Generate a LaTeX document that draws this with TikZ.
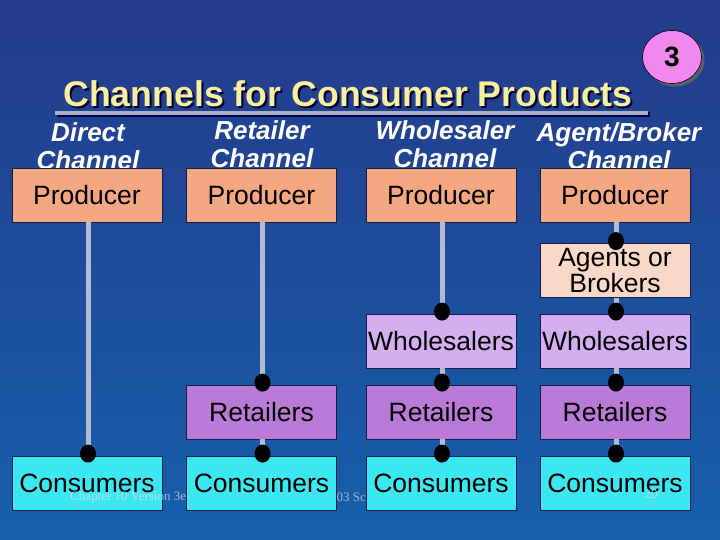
\documentclass[tikz,border=0pt]{standalone}
\usepackage{fontspec}
\setmainfont{Liberation Sans}
\newfontfamily\footfont{Liberation Serif}
\usetikzlibrary{shapes.geometric,shadows}
\definecolor{bgtop}{RGB}{36,58,138}
\definecolor{bgbot}{RGB}{22,96,172}
\definecolor{prodfill}{RGB}{244,168,130}
\definecolor{agentfill}{RGB}{250,216,200}
\definecolor{wholefill}{RGB}{212,174,240}
\definecolor{retfill}{RGB}{186,122,216}
\definecolor{consfill}{RGB}{60,232,240}
\definecolor{linegrey}{RGB}{176,188,208}
\definecolor{titleyellow}{RGB}{248,240,160}
\definecolor{ruleclr}{RGB}{168,176,200}
\definecolor{badgepink}{RGB}{240,136,240}
\definecolor{boxedge}{RGB}{20,30,70}
\begin{document}
\begin{tikzpicture}[x=1pt,y=-1pt,
  box/.style={draw=boxedge, line width=0.8pt, minimum width=150pt, minimum height=54pt,
    inner sep=0pt, align=center, text=black, font=\fontsize{26.5}{26}\selectfont},
  hdr/.style={text=white, align=center, inner sep=0pt, font=\fontsize{26}{28}\selectfont\bfseries\itshape},
  conn/.style={draw=linegrey, line width=5pt},
  dotmark/.style={fill=black},
  foot/.style={text=white!75!gray, opacity=0.7, inner sep=0pt, font=\footfont\fontsize{13}{13}\selectfont}]
\useasboundingbox (0,0) rectangle (720,540);
\shade[top color=bgtop, bottom color=bgbot] (0,0) rectangle (720,540);

% title
\node[text=black!80!blue, inner sep=0pt, font=\fontsize{35.7}{36}\selectfont\bfseries] (titleshadow) at (350,96) {Channels for Consumer Products};
\node[text=titleyellow, inner sep=0pt, font=\fontsize{35.7}{36}\selectfont\bfseries] (title) at (348,94) {Channels for Consumer Products};
\coordinate (ruleL) at (55,113);
\coordinate (ruleR) at (648,113);
\draw[line width=4.5pt, draw=black!70!blue] ([shift={(1.5,1.5)}]ruleL) -- ([shift={(1.5,1.5)}]ruleR);
\draw[line width=4.5pt, draw=ruleclr] (ruleL) -- (ruleR);

% badge
\node[ellipse, draw=black, line width=0.6pt, fill=badgepink, minimum width=59pt, minimum height=53pt, inner sep=0pt,
  drop shadow={shadow xshift=3pt, shadow yshift=-3pt, fill=black!60, opacity=0.8},
  font=\fontsize{28}{28}\selectfont\bfseries] (badge) at (672,57) {3};

% headers
\node[hdr] (h1) at (88,146) {Direct\\Channel};
\node[hdr] (h2) at (262,144) {Retailer\\Channel};
\node[hdr] (h3) at (445,144) {Wholesaler\\Channel};
\node[hdr] (h4) at (619,146) {Agent/Broker\\Channel};

% faint footer fragment
\node[foot, anchor=east] (footmid) at (366,497) {03 Sc};

% boxes
\node[box, fill=prodfill] (p1) at (87,195) {Producer};
\node[box, fill=prodfill] (p2) at (261.5,195) {Producer};
\node[box, fill=prodfill] (p3) at (441,195) {Producer};
\node[box, fill=prodfill] (p4) at (615,195) {Producer};

\node[box, fill=agentfill] (a4) at (615,270.5) {Agents or\\Brokers};

\node[box, fill=wholefill] (w3) at (441,341) {Wholesalers};
\node[box, fill=wholefill] (w4) at (615,341) {Wholesalers};

\node[box, fill=retfill] (r2) at (261.5,412) {Retailers};
\node[box, fill=retfill] (r3) at (441,412) {Retailers};
\node[box, fill=retfill] (r4) at (615,412) {Retailers};

\node[box, fill=consfill] (c1) at (87,483) {Consumers};
\node[box, fill=consfill] (c2) at (261.5,483) {Consumers};
\node[box, fill=consfill] (c3) at (441,483) {Consumers};
\node[box, fill=consfill] (c4) at (615,483) {Consumers};

% connectors
\foreach \a/\b in {p1/c1, p2/r2, r2/c2, p3/w3, w3/r3, r3/c3, p4/a4, a4/w4, w4/r4, r4/c4}{
  \draw[conn] ([xshift=1pt]\a.south) -- ([xshift=1pt]\b.north);
  \fill[dotmark] ([shift={(1pt,2pt)}]\b.north) ellipse (8pt and 9pt);
}

% footer
\node[foot, anchor=west] (footleft) at (70,497) {Chapter 10 Version 3e};
\node[foot] (footpage) at (651,494) {20};
\end{tikzpicture}
\end{document}
